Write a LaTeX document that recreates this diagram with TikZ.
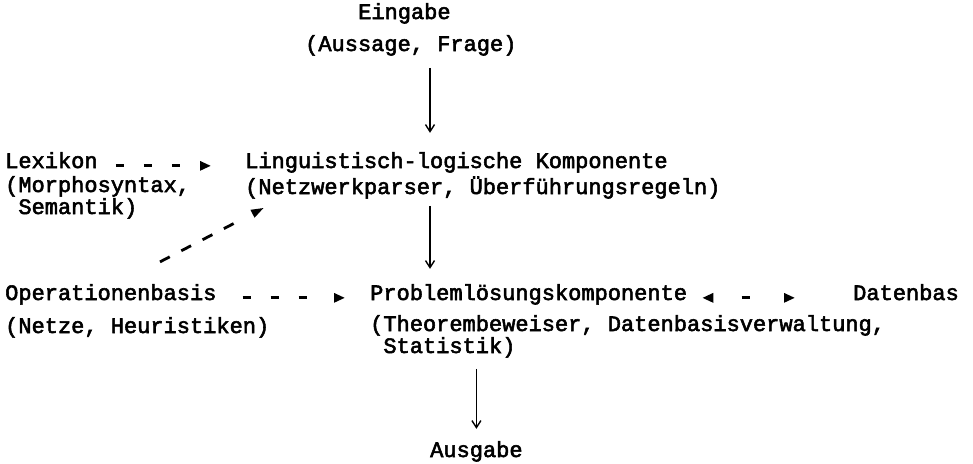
\documentclass[tikz,border=0pt]{standalone}
\usepackage{fontspec}
\usepackage{tikz}
\usetikzlibrary{
		arrows.meta,
		positioning
	}
\newfontfamily\typewriterfont{Liberation Mono}[FakeBold=2.5]
\newcommand{\tw}{\typewriterfont\fontsize{22}{22}\selectfont}
\tikzset{%
		entry/.style = {
			anchor = base west,
			inner sep = 0pt,
			align = left,
			font = \tw
		},
		flow/.style = {
			-{Straight Barb[length=7pt,width=9pt,line width=1.4pt]},
			line width = 1.6pt
		},
		dashflow/.style = {
			-{Triangle[length=11pt,width=9pt]},
			line width = 2.8pt,
			dash pattern = on 8pt off 20pt on 8pt off 20pt on 8pt off 400pt
		}
	}

\begin{document}
\begin{tikzpicture}[x=1pt, y=-1pt]
		\useasboundingbox (0, 0) rectangle (973, 463);
		\coordinate (axis) at (430, 0);

		% input
		\node [entry] (eingabe) at (358, 19) {Eingabe};
		\node [entry] (frage) at (305, 51) {(Aussage, Frage)};

		% linguistic row (two-line nodes sit on their last line)
		\node [entry] (lexikon) at (5, 168) {Lexikon};
		\node [entry] (lexinfo) at (5, 214) {(Morphosyntax,\\~Semantik)};
		\node [entry] (lingkomp) at (245, 168) {Linguistisch-logische Komponente};
		\node [entry] (lingrules) at (245, 194) {(Netzwerkparser, Überführungsregeln)};

		% problem solving row
		\node [entry] (opbasis) at (5, 300) {Operationenbasis};
		\node [entry] (opinfo) at (5, 333) {(Netze, Heuristiken)};
		\node [entry] (problem) at (370, 300) {Problemlösungskomponente};
		\node [entry] (probinfo) at (370, 353) {(Theorembeweiser, Datenbasisverwaltung,\\~Statistik)};
		\node [entry] (datenbasis) at (853, 300) {Datenbas};

		% output
		\node [entry] (ausgabe) at (430, 457) {Ausgabe};

		\draw [flow, shorten <= 12pt, shorten >= 19pt] (axis |- frage.south) -- (axis |- lingkomp.north);
		\draw [flow, shorten <= 7pt, shorten >= 15pt] (axis |- lingrules.south) -- (axis |- problem.north);
		\draw [flow, shorten <= 11pt, shorten >= 12pt] (ausgabe.north |- probinfo.south) -- (ausgabe.north);

		\draw [dashflow, shorten <= 18pt, shorten >= 34pt] (lexikon.mid east) -- (lingkomp.mid west);
		\draw [dashflow, shorten <= 26pt, shorten >= 25pt] (opbasis.mid east) -- (problem.mid west);
		\draw [dashflow, {Triangle[length=11pt,width=9pt]}-{Triangle[length=11pt,width=9pt]}, dash pattern = on 0pt off 29pt on 8pt off 400pt, shorten <= 15pt, shorten >= 58pt] (problem.mid east) -- (datenbasis.mid west);
		\draw [dashflow, -{Triangle[length=13pt,width=8pt]}, dash pattern = on 11pt off 13pt on 11pt off 13pt on 11pt off 13pt on 11pt off 400pt]
			([xshift=155pt, yshift=22pt]opbasis.north west) -- ([xshift=19pt, yshift=-9pt]lingrules.south west);
	\end{tikzpicture}
\end{document}
